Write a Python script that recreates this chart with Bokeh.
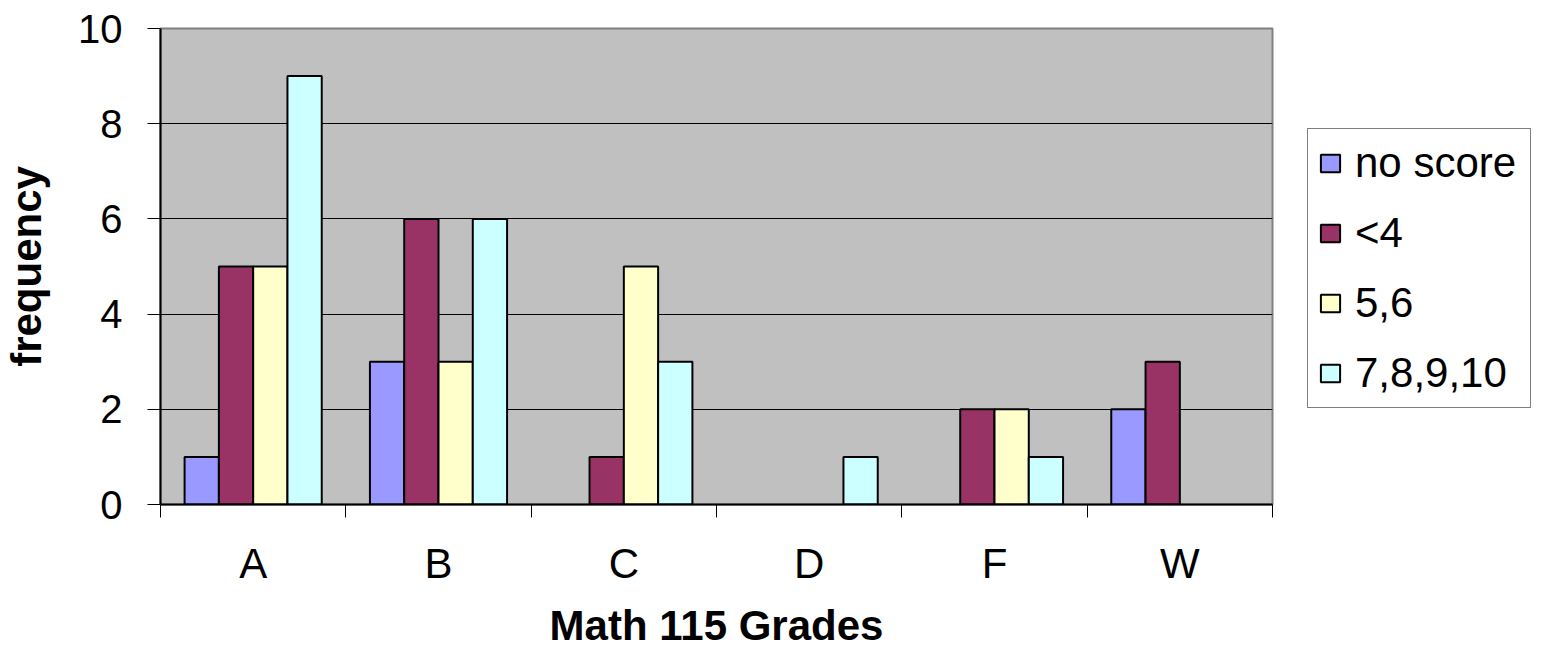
from bokeh.plotting import figure
from bokeh.models import (ColumnDataSource, Range1d, FixedTicker, Legend, LegendItem)
from bokeh.embed import file_html
from bokeh.resources import INLINE

grades = ["A", "B", "C", "D", "F", "W"]
series_names = ["no score", "<4", "5,6", "7,8,9,10"]
no_score = [1, 3, 0, 0, 0, 2]
lt4 = [5, 6, 1, 0, 2, 3]
s56 = [5, 3, 5, 0, 2, 0]
s7to10 = [9, 6, 3, 1, 1, 0]
colors = ["#9999FF", "#993366", "#FFFFCC", "#CCFFFF"]
y_ticks = [0, 2, 4, 6, 8, 10]

FONT = "Liberation Sans"

p = figure(frame_width=1112, frame_height=476, output_backend="svg", toolbar_location=None,
           x_range=Range1d(0, 6), y_range=Range1d(0, 10),
           min_border_left=158, min_border_right=257, min_border_top=28, min_border_bottom=147)
p.background_fill_color = "#C0C0C0"
p.border_fill_color = "white"
p.outline_line_color = "#808080"
p.outline_line_width = 2

bw = 0.185
offsets = [-1.5 * bw, -0.5 * bw, 0.5 * bw, 1.5 * bw]
all_series = [no_score, lt4, s56, s7to10]
items = []
for name, vals, col, off in zip(series_names, all_series, colors, offsets):
    xs = [i + 0.5 + off for i, v in enumerate(vals) if v > 0]
    tops = [v for v in vals if v > 0]
    src = ColumnDataSource(dict(x=xs, top=tops))
    r = p.vbar(x="x", top="top", width=bw, source=src, fill_color=col,
               line_color="black", line_width=2)
    items.append(LegendItem(label=name, renderers=[r]))

# axes
p.xaxis.ticker = FixedTicker(ticks=[i + 0.5 for i in range(len(grades))],
                             minor_ticks=list(range(len(grades) + 1)))
p.xaxis.major_label_overrides = {i + 0.5: g for i, g in enumerate(grades)}
p.xaxis.major_tick_out = 0
p.xaxis.major_tick_in = 0
p.xaxis.minor_tick_out = 13
p.xaxis.minor_tick_in = 0
p.xaxis.minor_tick_line_color = "black"
p.xaxis.axis_line_color = "black"
p.xaxis.axis_line_width = 2
p.xaxis.major_label_standoff = 22
p.xaxis.major_label_text_font = FONT
p.xaxis.major_label_text_font_size = "42px"
p.xaxis.major_label_text_color = "black"
p.xaxis.axis_label = "Math 115 Grades"
p.xaxis.axis_label_text_font = FONT
p.xaxis.axis_label_text_font_size = "42px"
p.xaxis.axis_label_text_font_style = "bold"
p.xaxis.axis_label_text_color = "black"
p.xaxis.axis_label_standoff = 12

p.yaxis.ticker = FixedTicker(ticks=y_ticks, minor_ticks=[])
p.yaxis.major_tick_out = 13
p.yaxis.major_tick_in = 0
p.yaxis.axis_line_color = "black"
p.yaxis.axis_line_width = 2
p.yaxis.major_label_standoff = 25
p.yaxis.major_label_text_font = FONT
p.yaxis.major_label_text_font_size = "40px"
p.yaxis.major_label_text_color = "black"
p.yaxis.axis_label = "frequency"
p.yaxis.axis_label_text_font = FONT
p.yaxis.axis_label_text_font_size = "42px"
p.yaxis.axis_label_text_font_style = "bold"
p.yaxis.axis_label_text_color = "black"
p.yaxis.axis_label_standoff = 25

p.xgrid.grid_line_color = None
p.ygrid.ticker = FixedTicker(ticks=[2, 4, 6, 8])
p.ygrid.grid_line_color = "black"
p.ygrid.grid_line_width = 1

legend = Legend(items=items, location=(35, 96))
legend.margin = 0
legend.padding = 10
legend.spacing = 22
legend.glyph_width = 24
legend.glyph_height = 22
legend.label_standoff = 13
legend.label_width = 165
legend.label_text_font = FONT
legend.label_text_font_size = "42px"
legend.label_text_color = "black"
legend.border_line_color = "black"
legend.border_line_width = 1
legend.background_fill_color = "white"
legend.background_fill_alpha = 1
p.add_layout(legend, "right")

open("out.html", "w").write(file_html(p, INLINE))
